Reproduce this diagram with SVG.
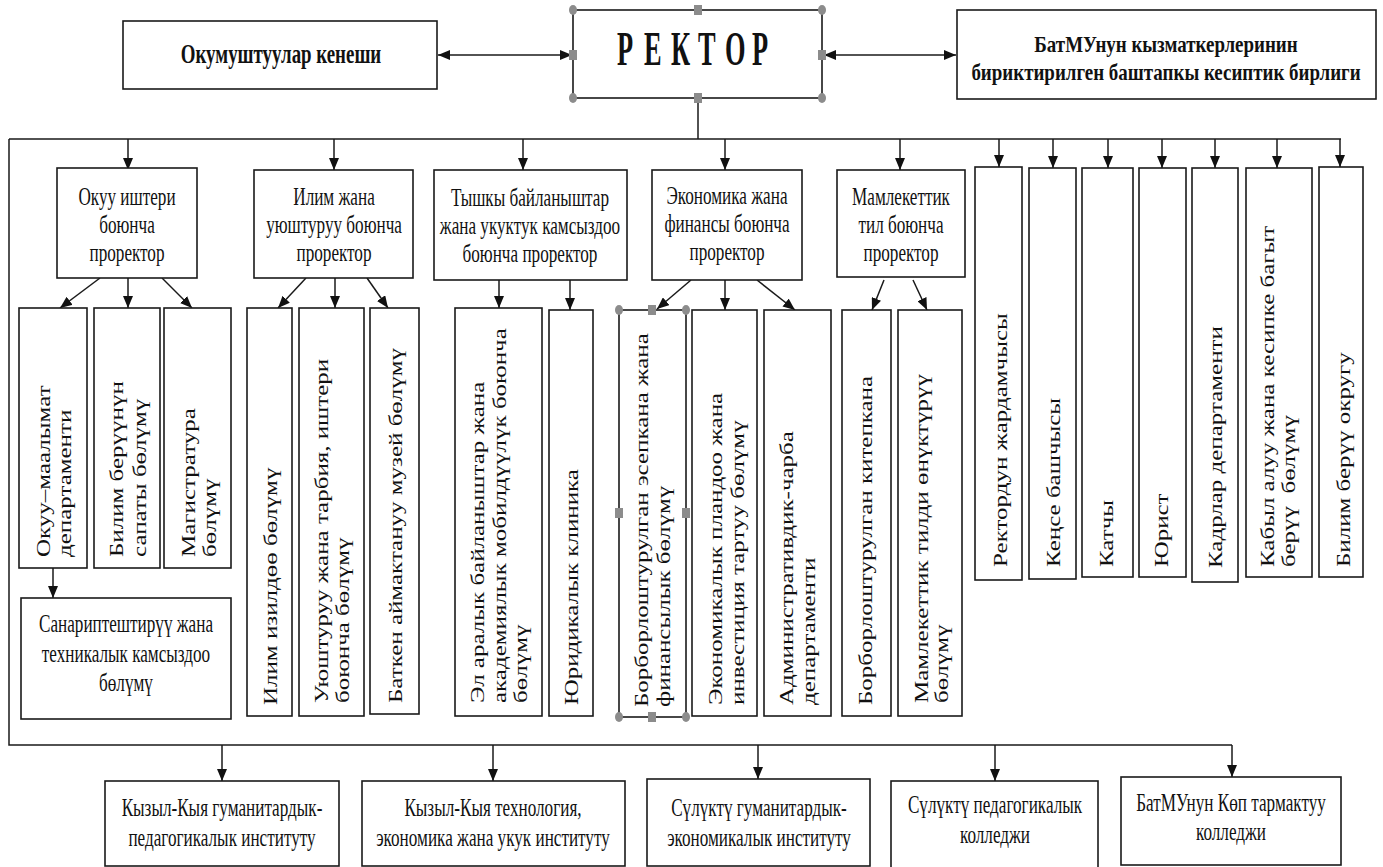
<svg xmlns="http://www.w3.org/2000/svg" width="1383" height="867" viewBox="0 0 1383 867">
<style>
.box{fill:#fff;stroke:#1a1a1a;stroke-width:1.6}
.ln{fill:none;stroke:#1a1a1a;stroke-width:1.5}
.ht{font-family:"Liberation Serif","Times New Roman",serif;font-size:26px;fill:#111;text-anchor:middle}
.hb{font-family:"Liberation Serif","Times New Roman",serif;font-size:27px;font-weight:bold;fill:#111;text-anchor:middle}
.hb2{font-family:"Liberation Serif","Times New Roman",serif;font-size:24px;font-weight:bold;fill:#111;text-anchor:middle}
.rt{font-family:"Liberation Serif","Times New Roman",serif;font-size:48px;font-weight:bold;fill:#111}
.vt{font-family:"Liberation Serif","Times New Roman",serif;font-size:25px;fill:#111;white-space:pre}
.hd{fill:#8c8c8c}
</style>
<defs>
<marker id="ah" markerUnits="userSpaceOnUse" markerWidth="12" markerHeight="10" refX="12" refY="5" orient="auto-start-reverse" viewBox="0 0 12 10">
<path d="M0,0 L12,5 L0,10 z" fill="#111"/>
</marker>
</defs>
<rect width="1383" height="867" fill="#fff"/>

<g id="connectors">
<line class="ln" x1="438" y1="55" x2="572" y2="55" marker-start="url(#ah)" marker-end="url(#ah)"/>
<line class="ln" x1="824" y1="55" x2="956" y2="55" marker-start="url(#ah)" marker-end="url(#ah)"/>
<path class="ln" d="M698,99 V139 M9,139 H1341 M9,139 V745 H1232"/>
<path class="ln" d="M128,139 V170" marker-end="url(#ah)"/>
<path class="ln" d="M334,139 V170" marker-end="url(#ah)"/>
<path class="ln" d="M523,139 V170" marker-end="url(#ah)"/>
<path class="ln" d="M725,139 V170" marker-end="url(#ah)"/>
<path class="ln" d="M900,139 V170" marker-end="url(#ah)"/>
<path class="ln" d="M999,139 V167" marker-end="url(#ah)"/>
<path class="ln" d="M1053,139 V168" marker-end="url(#ah)"/>
<path class="ln" d="M1108,139 V168" marker-end="url(#ah)"/>
<path class="ln" d="M1162,139 V168" marker-end="url(#ah)"/>
<path class="ln" d="M1215,139 V168" marker-end="url(#ah)"/>
<path class="ln" d="M1277,139 V168" marker-end="url(#ah)"/>
<path class="ln" d="M1340,139 V167" marker-end="url(#ah)"/>
<path class="ln" d="M100,278 L60,308" marker-end="url(#ah)"/>
<path class="ln" d="M128,278 V308" marker-end="url(#ah)"/>
<path class="ln" d="M162,278 L192,308" marker-end="url(#ah)"/>
<path class="ln" d="M306,278 L278,308" marker-end="url(#ah)"/>
<path class="ln" d="M335,278 V308" marker-end="url(#ah)"/>
<path class="ln" d="M367,278 L388,308" marker-end="url(#ah)"/>
<path class="ln" d="M499,280 V308" marker-end="url(#ah)"/>
<path class="ln" d="M570,280 V310" marker-end="url(#ah)"/>
<path class="ln" d="M691,280 L657,309" marker-end="url(#ah)"/>
<path class="ln" d="M725,280 V310" marker-end="url(#ah)"/>
<path class="ln" d="M757,280 L795,310" marker-end="url(#ah)"/>
<path class="ln" d="M884,280 L872,310" marker-end="url(#ah)"/>
<path class="ln" d="M913,280 L927,310" marker-end="url(#ah)"/>
<path class="ln" d="M53,568 V598" marker-end="url(#ah)"/>
<path class="ln" d="M222,745 V781" marker-end="url(#ah)"/>
<path class="ln" d="M493,745 V781" marker-end="url(#ah)"/>
<path class="ln" d="M758,745 V779" marker-end="url(#ah)"/>
<path class="ln" d="M995,745 V781" marker-end="url(#ah)"/>
<path class="ln" d="M1232,745 V777" marker-end="url(#ah)"/>
</g>

<g id="council">
<rect class="box" x="123" y="21" width="314" height="68"/>
<g transform="translate(281,0) scale(0.7,1)"><text class="hb" x="0" y="63">Окумуштуулар кенеши</text></g>
</g>

<g id="rector">
<rect class="box" x="573" y="10" width="249" height="88" stroke="#555"/>
<g transform="scale(0.55,1)"><text class="rt" y="65" x="1121.8 1146.4 1170.9 1195.5 1220 1244.5 1269.1 1293.6 1318.2 1342.7 1367.3">Р Е К Т О Р</text></g>
<g class="hd">
<ellipse cx="573" cy="10" rx="4" ry="5"/><ellipse cx="822" cy="10" rx="4" ry="5"/>
<ellipse cx="573" cy="98" rx="4" ry="5"/><ellipse cx="822" cy="98" rx="4" ry="5"/>
<rect x="694" y="5" width="8" height="10"/><rect x="694" y="93" width="8" height="10"/>
<rect x="569" y="50" width="8" height="10"/><rect x="818" y="50" width="8" height="10"/>
</g>
</g>

<g id="union">
<rect class="box" x="957" y="10" width="419" height="89"/>
<g transform="translate(1166,0) scale(0.79,1)">
<text class="hb2" x="0" y="52">БатМУнун кызматкерлеринин</text>
<text class="hb2" x="0" y="80">бириктирилген баштапкы кесиптик бирлиги</text>
</g>
</g>

<g id="p1">
<rect class="box" x="57" y="168" width="140" height="110"/>
<g transform="translate(127,0) scale(0.66,1)">
<text class="ht" x="0" y="205">Окуу иштери</text>
<text class="ht" x="0" y="233">боюнча</text>
<text class="ht" x="0" y="261">проректор</text>
</g>
</g>
<g id="p2">
<rect class="box" x="254" y="170" width="159" height="108"/>
<g transform="translate(334,0) scale(0.66,1)">
<text class="ht" x="0" y="205">Илим жана</text>
<text class="ht" x="0" y="233">уюштуруу боюнча</text>
<text class="ht" x="0" y="261">проректор</text>
</g>
</g>
<g id="p3">
<rect class="box" x="434" y="170" width="193" height="110"/>
<g transform="translate(530,0) scale(0.66,1)">
<text class="ht" x="0" y="206">Тышкы байланыштар</text>
<text class="ht" x="0" y="234">жана укуктук камсыздоо</text>
<text class="ht" x="0" y="262">боюнча проректор</text>
</g>
</g>
<g id="p4">
<rect class="box" x="652" y="170" width="150" height="110"/>
<g transform="translate(727,0) scale(0.66,1)">
<text class="ht" x="0" y="204">Экономика жана</text>
<text class="ht" x="0" y="232">финансы боюнча</text>
<text class="ht" x="0" y="260">проректор</text>
</g>
</g>
<g id="p5">
<rect class="box" x="837" y="170" width="128" height="107"/>
<g transform="translate(901,0) scale(0.66,1)">
<text class="ht" x="0" y="205">Мамлекеттик</text>
<text class="ht" x="0" y="233">тил боюнча</text>
<text class="ht" x="0" y="261">проректор</text>
</g>
</g>

<g id="r1"><rect class="box" x="975" y="167" width="47" height="413"/>
<text class="vt" transform="translate(1007,567) scale(0.75,1) rotate(-90)">Ректордун жардамчысы</text></g>
<g id="r2"><rect class="box" x="1029" y="168" width="47" height="411"/>
<text class="vt" transform="translate(1060,567) scale(0.75,1) rotate(-90)">Кеңсе башчысы</text></g>
<g id="r3"><rect class="box" x="1082" y="168" width="51" height="409"/>
<text class="vt" transform="translate(1113,567) scale(0.75,1) rotate(-90)">Катчы</text></g>
<g id="r4"><rect class="box" x="1139" y="168" width="47" height="409"/>
<text class="vt" transform="translate(1168,567) scale(0.75,1) rotate(-90)">Юрист</text></g>
<g id="r5"><rect class="box" x="1192" y="168" width="46" height="414"/>
<text class="vt" transform="translate(1222,568) scale(0.75,1) rotate(-90)">Кадрлар департаменти</text></g>
<g id="r6"><rect class="box" x="1246" y="168" width="66" height="409"/>
<text class="vt" transform="translate(1274,567) scale(0.75,1) rotate(-90)">Кабыл алуу жана кесипке багыт</text>
<text class="vt" transform="translate(1295,567) scale(0.75,1) rotate(-90)">берүү  бөлүмү</text></g>
<g id="r7"><rect class="box" x="1319" y="167" width="44" height="410"/>
<text class="vt" transform="translate(1350,567) scale(0.75,1) rotate(-90)">Билим берүү округу</text></g>

<g id="s1"><rect class="box" x="19" y="308" width="68" height="260"/>
<text class="vt" transform="translate(50,557) scale(0.75,1) rotate(-90)">Окуу–маалымат</text>
<text class="vt" transform="translate(71,557) scale(0.75,1) rotate(-90)">департаменти</text></g>
<g id="s2"><rect class="box" x="94" y="308" width="66" height="260"/>
<text class="vt" transform="translate(123,557) scale(0.75,1) rotate(-90)">Билим берүүнүн</text>
<text class="vt" transform="translate(146,557) scale(0.75,1) rotate(-90)">сапаты бөлүмү</text></g>
<g id="s3"><rect class="box" x="164" y="308" width="67" height="260"/>
<text class="vt" transform="translate(195,557) scale(0.75,1) rotate(-90)">Магистратура</text>
<text class="vt" transform="translate(216,557) scale(0.75,1) rotate(-90)">бөлүмү</text></g>
<g id="s4"><rect class="box" x="21" y="598" width="210" height="121"/>
<g transform="translate(126,0) scale(0.66,1)">
<text class="ht" x="0" y="632">Санариптештирүү жана</text>
<text class="ht" x="0" y="662">техникалык камсыздоо</text>
<text class="ht" x="0" y="691">бөлүмү</text>
</g></g>
<g id="s5"><rect class="box" x="247" y="308" width="45" height="408"/>
<text class="vt" transform="translate(277,705) scale(0.75,1) rotate(-90)">Илим изилдөө бөлүмү</text></g>
<g id="s6"><rect class="box" x="299" y="308" width="65" height="408"/>
<text class="vt" transform="translate(328,703) scale(0.75,1) rotate(-90)">Уюштуруу жана тарбия, иштери</text>
<text class="vt" transform="translate(349,703) scale(0.75,1) rotate(-90)">боюнча бөлүмү</text></g>
<g id="s7"><rect class="box" x="370" y="308" width="49" height="406"/>
<text class="vt" transform="translate(402,703) scale(0.75,1) rotate(-90)">Баткен аймактануу музей бөлүмү</text></g>
<g id="s8"><rect class="box" x="455" y="308" width="87" height="408"/>
<text class="vt" transform="translate(484,703) scale(0.75,1) rotate(-90)">Эл аралык байланыштар жана</text>
<text class="vt" transform="translate(506,703) scale(0.75,1) rotate(-90)">академиялык мобилдүүлүк боюнча</text>
<text class="vt" transform="translate(527,703) scale(0.75,1) rotate(-90)">бөлүмү</text></g>
<g id="s9"><rect class="box" x="549" y="310" width="44" height="406"/>
<text class="vt" transform="translate(578,705) scale(0.75,1) rotate(-90)">Юридикалык клиника</text></g>
<g id="s10"><rect class="box" x="619" y="310" width="67" height="407"/>
<text class="vt" transform="translate(648,707) scale(0.75,1) rotate(-90)">Борборлоштурулган эсепкана жана</text>
<text class="vt" transform="translate(670,707) scale(0.75,1) rotate(-90)">финансылык бөлүмү</text>
<g class="hd">
<ellipse cx="619" cy="310" rx="4" ry="5"/><ellipse cx="686" cy="310" rx="4" ry="5"/>
<ellipse cx="619" cy="717" rx="4" ry="5"/><ellipse cx="686" cy="717" rx="4" ry="5"/>
<rect x="648" y="305" width="8" height="10"/><rect x="648" y="712" width="8" height="10"/>
<rect x="615" y="508" width="8" height="10"/><rect x="682" y="508" width="8" height="10"/>
</g></g>
<g id="s11"><rect class="box" x="692" y="310" width="65" height="406"/>
<text class="vt" transform="translate(722,705) scale(0.75,1) rotate(-90)">Экономикалык пландоо жана</text>
<text class="vt" transform="translate(744,705) scale(0.75,1) rotate(-90)">инвестиция тартуу бөлүмү</text></g>
<g id="s12"><rect class="box" x="764" y="310" width="67" height="406"/>
<text class="vt" transform="translate(793,705) scale(0.75,1) rotate(-90)">Административдик-чарба</text>
<text class="vt" transform="translate(815,705) scale(0.75,1) rotate(-90)">департаменти</text></g>
<g id="s13"><rect class="box" x="842" y="310" width="49" height="406"/>
<text class="vt" transform="translate(872,705) scale(0.75,1) rotate(-90)">Борборлоштурулган китепкана</text></g>
<g id="s14"><rect class="box" x="898" y="310" width="64" height="406"/>
<text class="vt" transform="translate(928,703) scale(0.75,1) rotate(-90)">Мамлекеттик тилди өнүктүрүү</text>
<text class="vt" transform="translate(948,703) scale(0.75,1) rotate(-90)">бөлүмү</text></g>

<g id="b1"><rect class="box" x="105" y="781" width="234" height="85"/>
<g transform="translate(222,0) scale(0.66,1)">
<text class="ht" x="0" y="816">Кызыл-Кыя гуманитардык-</text>
<text class="ht" x="0" y="846">педагогикалык институту</text></g></g>
<g id="b2"><rect class="box" x="362" y="781" width="263" height="85"/>
<g transform="translate(493,0) scale(0.66,1)">
<text class="ht" x="0" y="816">Кызыл-Кыя технология,</text>
<text class="ht" x="0" y="846">экономика жана укук институту</text></g></g>
<g id="b3"><rect class="box" x="647" y="779" width="223" height="87"/>
<g transform="translate(759,0) scale(0.66,1)">
<text class="ht" x="0" y="816">Сүлүктү гуманитардык-</text>
<text class="ht" x="0" y="846">экономикалык институту</text></g></g>
<g id="b4"><rect class="box" x="891" y="781" width="207" height="90"/>
<g transform="translate(995,0) scale(0.66,1)">
<text class="ht" x="0" y="813">Сүлүктү педагогикалык</text>
<text class="ht" x="0" y="843">колледжи</text></g></g>
<g id="b5"><rect class="box" x="1121" y="777" width="220" height="88"/>
<g transform="translate(1231,0) scale(0.66,1)">
<text class="ht" x="0" y="811">БатМУнун Көп тармактуу</text>
<text class="ht" x="0" y="840">колледжи</text></g></g>
</svg>
